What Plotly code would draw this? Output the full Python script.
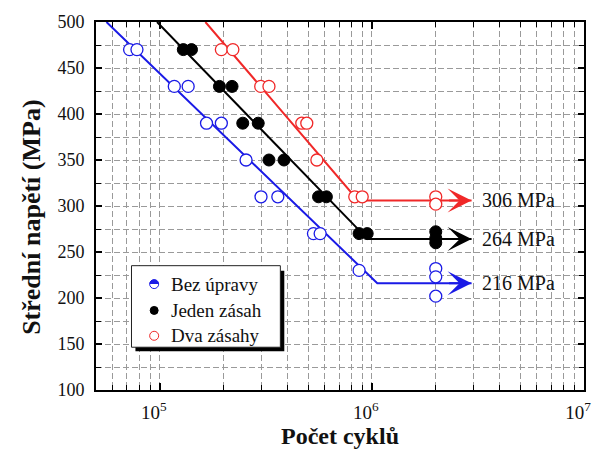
import numpy as np
import plotly.graph_objects as go

# ---------------- data ----------------
series_names = ["Bez úpravy", "Jeden zásah", "Dva zásahy"]

blue_N = [7.2e4, 7.8e4, 1.17e5, 1.36e5, 1.66e5, 1.95e5, 2.55e5, 3.0e5, 3.6e5,
          5.3e5, 5.7e5, 8.7e5, 2.0e6, 2.0e6, 2.0e6]
blue_S = [470, 470, 430, 430, 390, 390, 350, 310, 310, 270, 270, 230, 232, 223, 202]

black_N = [1.29e5, 1.41e5, 1.91e5, 2.19e5, 2.46e5, 2.91e5, 3.27e5, 3.85e5,
           5.6e5, 6.1e5, 8.7e5, 9.5e5, 2.0e6, 2.0e6, 2.0e6]
black_S = [470, 470, 430, 430, 390, 390, 350, 350, 310, 310, 270, 270, 272, 265, 260]

red_N = [1.95e5, 2.21e5, 2.99e5, 3.27e5, 4.67e5, 4.93e5, 5.5e5, 8.3e5, 9.0e5, 2.0e6, 2.0e6]
red_S = [470, 470, 430, 430, 390, 390, 350, 310, 310, 310, 302]

# S-N curve: start of sloped part, knee, end of arrow
blue_line_N = [5.6e4, 1.06e6, 2.95e6]
black_line_N = [9.7e4, 9.55e5, 2.95e6]
red_line_N = [1.64e5, 8.6e5, 2.95e6]
line_top_S = 500
limits = [216, 264, 306]
limit_labels = ["216 MPa", "264 MPa", "306 MPa"]

x_major = [1e5, 1e6, 1e7]
x_major_text = ["10<sup>5</sup>", "10<sup>6</sup>", "10<sup>7</sup>"]
x_minor = [m * 10 ** e for e in (4, 5, 6) for m in range(2, 10) if 5e4 <= m * 10 ** e < 1e7]

y_ticks = list(range(100, 501, 50))

# ---------------- styles ----------------
BLUE = "#1a1ae6"
BLACK = "#000000"
RED = "#f02828"
SERIF = "Liberation Serif, Times New Roman, serif"
colors = [BLUE, BLACK, RED]

fig = go.Figure()

line_sets = [blue_line_N, black_line_N, red_line_N]
for lineN, lim, c in zip(line_sets, limits, colors):
    fig.add_trace(go.Scatter(x=lineN, y=[line_top_S, lim, lim], mode="lines",
                             line=dict(color=c, width=2), showlegend=False,
                             hoverinfo="skip"))

MS = 12
fig.add_trace(go.Scatter(x=blue_N, y=blue_S, mode="markers", showlegend=False,
                         marker=dict(symbol="circle", size=MS, color="white",
                                     line=dict(color=BLUE, width=1.3))))
fig.add_trace(go.Scatter(x=black_N, y=black_S, mode="markers", showlegend=False,
                         marker=dict(symbol="circle", size=MS, color=BLACK,
                                     line=dict(color=BLACK, width=1))))
fig.add_trace(go.Scatter(x=red_N, y=red_S, mode="markers", showlegend=False,
                         marker=dict(symbol="circle", size=MS, color="white",
                                     line=dict(color=RED, width=1.3))))


def half_disc(xref, yref, xa, ya, r, color):
    # upper half disc as a polygon (pixel offsets, +y is up)
    angs = np.linspace(np.pi, 0, 17)
    pts = [f"{r * np.cos(a):.2f},{r * np.sin(a):.2f}" for a in angs]
    path = "M " + " L ".join(pts) + " Z"
    return dict(type="path", xref=xref, yref=yref, xsizemode="pixel",
                ysizemode="pixel", xanchor=xa, yanchor=ya, path=path,
                fillcolor=color, line=dict(width=0), layer="above")


shapes = []
for n, s in zip(blue_N, blue_S):
    shapes.append(half_disc("x", "y", float(np.log10(n)), s, MS / 2, BLUE))

annotations = []
# arrows + limit labels
for lineN, lim, c, lab in zip(line_sets, limits, colors, limit_labels):
    xe = float(np.log10(lineN[-1]))
    annotations.append(dict(x=xe, y=lim, xref="x", yref="y", text="", showarrow=True,
                            ax=-24, ay=0, arrowhead=3, arrowsize=2.0, arrowwidth=2,
                            arrowcolor=c))
    annotations.append(dict(x=xe, y=lim, xref="x", yref="y", text=lab, showarrow=False,
                            xanchor="left", yanchor="middle", xshift=8,
                            font=dict(family=SERIF, size=20, color="#111")))

# manual legend (paper coordinates)
L, R, T, B = 96, 591, 20, 390
W, H = R - L, B - T
px = lambda v: (v - L) / W
py = lambda v: (B - v) / H
shapes.append(dict(type="rect", xref="paper", yref="paper", x0=px(136), x1=px(287),
                   y0=py(351), y1=py(270), fillcolor="black", line=dict(width=0),
                   layer="above"))
shapes.append(dict(type="rect", xref="paper", yref="paper", x0=px(132), x1=px(283),
                   y0=py(347), y1=py(265), fillcolor="white",
                   line=dict(color="#222", width=1), layer="above"))
rows_y = [283.5, 310, 335.5]
mx = px(155)
lr = 4.5
# blue half
shapes.append(dict(type="circle", xref="paper", yref="paper", xsizemode="pixel",
                   ysizemode="pixel", xanchor=mx, yanchor=py(rows_y[0]),
                   x0=-lr, x1=lr, y0=-lr, y1=lr, fillcolor="white",
                   line=dict(color=BLUE, width=1), layer="above"))
shapes.append(half_disc("paper", "paper", mx, py(rows_y[0]), lr, BLUE))
shapes.append(dict(type="circle", xref="paper", yref="paper", xsizemode="pixel",
                   ysizemode="pixel", xanchor=mx, yanchor=py(rows_y[1]),
                   x0=-4, x1=4, y0=-4, y1=4, fillcolor=BLACK,
                   line=dict(color=BLACK, width=1), layer="above"))
shapes.append(dict(type="circle", xref="paper", yref="paper", xsizemode="pixel",
                   ysizemode="pixel", xanchor=mx, yanchor=py(rows_y[2]),
                   x0=-lr, x1=lr, y0=-lr, y1=lr, fillcolor="white",
                   line=dict(color=RED, width=1), layer="above"))
for name, yy in zip(series_names, rows_y):
    annotations.append(dict(x=px(170), y=py(yy), xref="paper", yref="paper", text=name,
                            showarrow=False, xanchor="left", yanchor="middle",
                            font=dict(family=SERIF, size=19, color="#111")))

# axis titles
annotations.append(dict(x=0.5, y=py(436), xref="paper", yref="paper",
                        text="<b>Počet cyklů</b>", showarrow=False,
                        xanchor="center", yanchor="middle",
                        font=dict(family=SERIF, size=24, color="#111")))
annotations.append(dict(x=px(31), y=py(216), xref="paper", yref="paper",
                        text="<b>Střední napětí (MPa)</b>", showarrow=False,
                        textangle=-90, xanchor="center", yanchor="middle",
                        font=dict(family=SERIF, size=26, color="#111")))

grid = dict(showgrid=True, gridcolor="#9a9a9a", griddash="6px,3px", gridwidth=1)

fig.update_layout(
    width=603, height=455,
    margin=dict(l=L, r=603 - R, t=T, b=455 - B),
    paper_bgcolor="white", plot_bgcolor="white",
    showlegend=False,
    shapes=shapes, annotations=annotations,
    xaxis=dict(type="log", range=[np.log10(5e4), 7], tickmode="array",
               tickvals=x_major, ticktext=x_major_text, ticks="inside", ticklen=7,
               tickwidth=1.5, tickcolor="black", showline=True, linecolor="black",
               linewidth=2, mirror="allticks", zeroline=False,
               tickfont=dict(family=SERIF, size=19, color="#111"),
               ticklabelshift=-6, ticklabelstandoff=4,
               minor=dict(tickmode="array", tickvals=x_minor, ticks="inside", ticklen=5,
                          tickwidth=1.2, tickcolor="black", **grid),
               **grid),
    yaxis=dict(range=[100, 500], tickmode="array", tickvals=y_ticks,
               ticks="inside", ticklen=6, tickwidth=1.5, tickcolor="black",
               showline=True, linecolor="black", linewidth=2, mirror="allticks",
               zeroline=False, tickfont=dict(family=SERIF, size=18, color="#111"),
               ticklabelstandoff=6,
               minor=dict(dtick=25, tick0=100, ticks="inside", ticklen=5, tickwidth=1.2,
                          tickcolor="black", **grid),
               **grid),
)

fig.write_html("out.html")
